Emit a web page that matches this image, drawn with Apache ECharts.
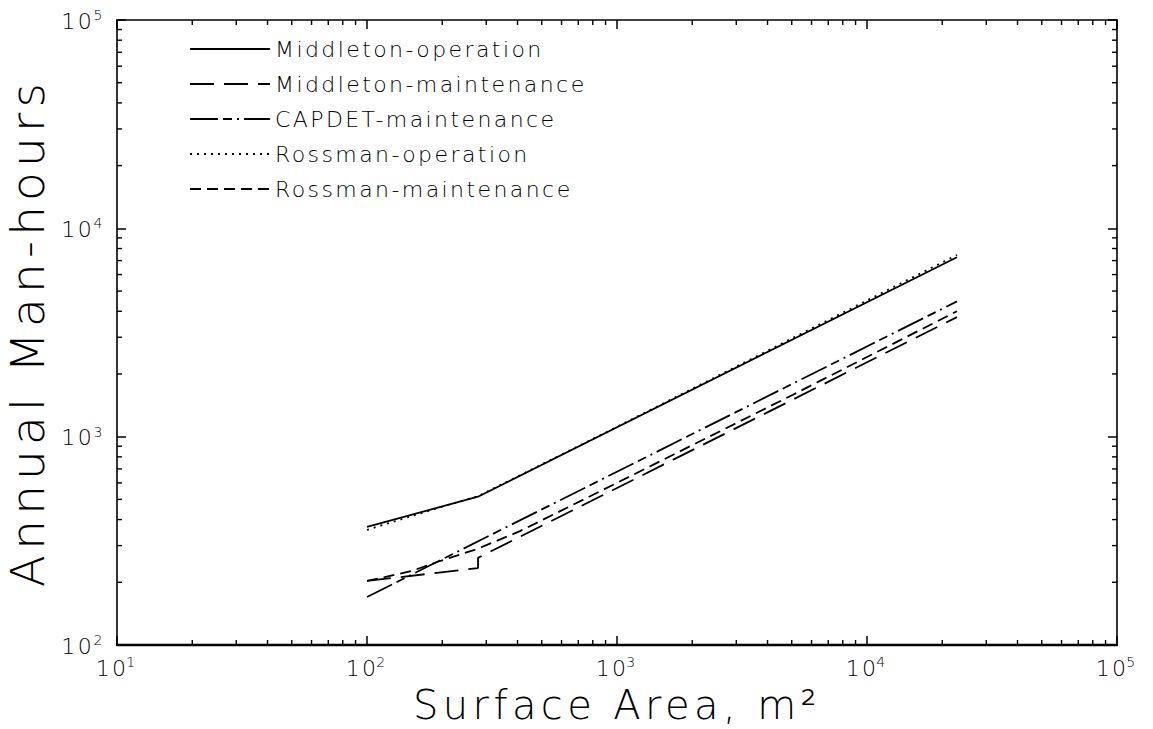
<!DOCTYPE html>
<html>
<head>
<meta charset="utf-8">
<script src="https://cdn.jsdelivr.net/npm/echarts@6/dist/echarts.min.js"></script>
<style>
  html, body { margin: 0; padding: 0; background: #ffffff; }
  #chart { width: 1153px; height: 729px; }
  #chart text { letter-spacing: 0.11em; }
</style>
</head>
<body>
<div id="chart"></div>
<script>
// Annual man-hours versus surface area (m²) for each estimating method
const middletonOpArea   = [100, 278, 22900];
const middletonOpHours  = [369, 515, 7260];

const middletonMtArea   = [100, 278, 278, 22900];
const middletonMtHours  = [203, 234, 262, 3750];

const capdetMtArea      = [100, 22900];
const capdetMtHours     = [170, 4460];

const rossmanOpArea     = [100, 150, 200, 278, 1000, 5000, 22900];
const rossmanOpHours    = [357, 415, 461, 518, 1115, 2960, 7450];

const rossmanMtArea     = [100, 150, 192, 278, 409, 1000, 5058, 22900];
const rossmanMtHours    = [203, 226, 251, 290, 352, 600, 1590, 4000];

// Decade tick labels: base and exponent
const xTickExponents = ['1', '2', '3', '4', '5'];
const yTickExponents = ['2', '3', '4', '5'];

// Minor tick mantissas inside each decade
const minorMantissas = [2, 3, 4, 5, 6, 7, 8, 9];
const xDecades = [10, 100, 1000, 10000];
const yDecades = [100, 1000, 10000];

const X_MIN = 10, X_MAX = 100000, Y_MIN = 100, Y_MAX = 100000;

function pairs(xs, ys) { return xs.map((x, i) => [x, ys[i]]); }

const xMinor = [];
xDecades.forEach(d => minorMantissas.forEach(m => xMinor.push([d * m, Y_MIN])));
const yMinor = [];
yDecades.forEach(d => minorMantissas.forEach(m => yMinor.push([X_MIN, d * m])));

const FONT = 'DejaVu Sans';
const WEIGHT = 200;
const INK = '#000000';

function expOf(v) { return Math.round(Math.log10(v)); }

const tickRich = {
  b: { fontFamily: FONT, fontWeight: WEIGHT, fontSize: 22, color: INK, lineHeight: 24, verticalAlign: 'bottom' },
  s: { fontFamily: FONT, fontWeight: WEIGHT, fontSize: 14, color: INK, lineHeight: 24, verticalAlign: 'top', padding: [0, 0, 0, 1] }
};

const chart = echarts.init(document.getElementById('chart'), null, { renderer: 'svg' });

const baseAxisLine = { show: true, onZero: false, lineStyle: { color: INK, width: 1.6 } };
const majorTick = { show: true, inside: true, length: 9, lineStyle: { color: INK, width: 1.5 } };

function lineSeries(name, xs, ys, type) {
  return {
    name: name,
    type: 'line',
    data: pairs(xs, ys),
    symbol: 'none',
    showSymbol: false,
    lineStyle: { color: INK, width: 1.8, type: type },
    itemStyle: { color: INK },
    z: 3
  };
}

function minorTickSeries(data, horizontal) {
  return {
    type: 'custom',
    silent: true,
    clip: false,
    data: data,
    z: 4,
    renderItem: function (params, api) {
      const len = 5;
      if (horizontal) {
        const v = api.value(0);
        const b = api.coord([v, Y_MIN]);
        const t = api.coord([v, Y_MAX]);
        return {
          type: 'group',
          children: [
            { type: 'line', shape: { x1: b[0], y1: b[1], x2: b[0], y2: b[1] - len }, style: { stroke: INK, lineWidth: 1.4 } },
            { type: 'line', shape: { x1: t[0], y1: t[1], x2: t[0], y2: t[1] + len }, style: { stroke: INK, lineWidth: 1.4 } }
          ]
        };
      }
      const v = api.value(1);
      const l = api.coord([X_MIN, v]);
      const r = api.coord([X_MAX, v]);
      return {
        type: 'group',
        children: [
          { type: 'line', shape: { x1: l[0], y1: l[1], x2: l[0] + len, y2: l[1] }, style: { stroke: INK, lineWidth: 1.4 } },
          { type: 'line', shape: { x1: r[0], y1: r[1], x2: r[0] - len, y2: r[1] }, style: { stroke: INK, lineWidth: 1.4 } }
        ]
      };
    }
  };
}

const option = {
  backgroundColor: '#ffffff',
  animation: false,
  textStyle: { fontFamily: FONT, fontWeight: WEIGHT, color: INK },
  grid: { left: 117, right: 36, top: 20, bottom: 84, outerBoundsMode: 'none', containLabel: false },
  legend: {
    orient: 'vertical',
    left: 184,
    top: 32,
    itemWidth: 80,
    itemHeight: 14,
    itemGap: 11,
    selectedMode: false,
    itemStyle: { opacity: 0 },
    textStyle: { fontFamily: FONT, fontWeight: WEIGHT, fontSize: 22, color: INK, lineHeight: 24 },
    data: ['Middleton-operation', 'Middleton-maintenance', 'CAPDET-maintenance', 'Rossman-operation', 'Rossman-maintenance']
  },
  xAxis: [
    {
      type: 'log', logBase: 10, min: X_MIN, max: X_MAX, splitNumber: 4,
      position: 'bottom',
      axisLine: { show: true, onZero: false, lineStyle: { color: INK, width: 2.4 } },
      axisTick: majorTick,
      splitLine: { show: false },
      axisLabel: {
        margin: 10,
        formatter: v => '{b|10}{s|' + xTickExponents[expOf(v) - 1] + '}',
        rich: tickRich
      },
      name: 'Surface Area, m\u00B2',
      nameLocation: 'middle',
      nameGap: 40,
      nameTextStyle: { fontFamily: FONT, fontWeight: WEIGHT, fontSize: 40, color: INK }
    },
    {
      type: 'log', logBase: 10, min: X_MIN, max: X_MAX, splitNumber: 4,
      position: 'top',
      axisLine: baseAxisLine,
      axisTick: majorTick,
      splitLine: { show: false },
      axisLabel: { show: false }
    }
  ],
  yAxis: [
    {
      type: 'log', logBase: 10, min: Y_MIN, max: Y_MAX, splitNumber: 3,
      position: 'left',
      axisLine: baseAxisLine,
      axisTick: majorTick,
      splitLine: { show: false },
      axisLabel: {
        margin: 13,
        formatter: v => '{b|10}{s|' + yTickExponents[expOf(v) - 2] + '}',
        rich: tickRich
      },
      name: 'Annual Man-hours',
      nameLocation: 'middle',
      nameGap: 66,
      nameTextStyle: { fontFamily: FONT, fontWeight: WEIGHT, fontSize: 47, color: INK }
    },
    {
      type: 'log', logBase: 10, min: Y_MIN, max: Y_MAX, splitNumber: 3,
      position: 'right',
      axisLine: baseAxisLine,
      axisTick: majorTick,
      splitLine: { show: false },
      axisLabel: { show: false }
    }
  ],
  series: [
    lineSeries('Middleton-operation', middletonOpArea, middletonOpHours, 'solid'),
    lineSeries('Middleton-maintenance', middletonMtArea, middletonMtHours, [24, 10]),
    lineSeries('CAPDET-maintenance', capdetMtArea, capdetMtHours, [28, 5, 9, 5, 2, 5]),
    lineSeries('Rossman-operation', rossmanOpArea, rossmanOpHours, [2, 5]),
    lineSeries('Rossman-maintenance', rossmanMtArea, rossmanMtHours, [11, 6]),
    minorTickSeries(xMinor, true),
    minorTickSeries(yMinor, false)
  ]
};

chart.setOption(option);
</script>
</body>
</html>
